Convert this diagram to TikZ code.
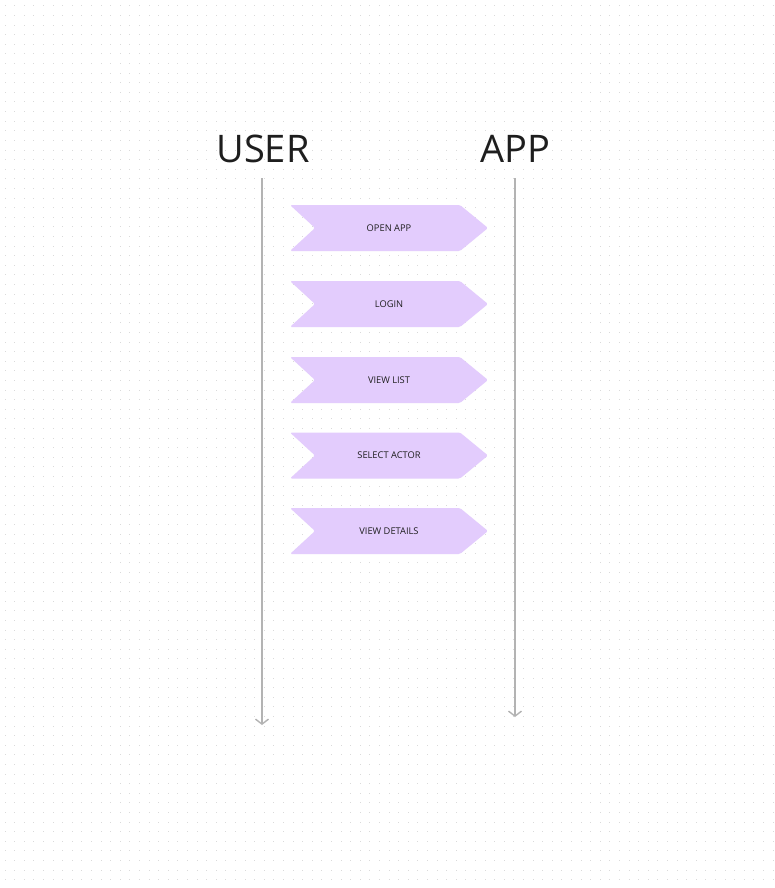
\documentclass[tikz,border=0pt]{standalone}
\usepackage{fontspec}
\setmainfont{Open Sans}
\usetikzlibrary{arrows.meta}
\definecolor{chev}{HTML}{E3CCFD}
\definecolor{lifeline}{HTML}{B3B3B3}
\definecolor{dotc}{HTML}{DADADA}
\definecolor{txt}{HTML}{1E1E1E}
\tikzset{
  chevbox/.style={fill=chev, rounded corners=1.5pt},
  steplabel/.style={font=\fontsize{9.3}{11}\selectfont, text=txt},
  header/.style={font=\fontsize{38}{40}\selectfont, text=txt, anchor=base},
  life/.style={draw=lifeline, line width=1.4pt, -{Straight Barb[length=5pt,width=13pt,line width=1.4pt]}}
}
\begin{document}
\begin{tikzpicture}[x=1pt,y=-1pt]
\useasboundingbox (0,0) rectangle (774,888);
\fill[white] (0,0) rectangle (774,888);
% dot grid
\foreach \i in {0,...,80}{
  \foreach \j in {0,...,92}{
    \fill[dotc] ({4.5+9.6*\i},{5.5+9.6*\j}) rectangle +(1,1);
  }
}
% headers
\node[header] (user) at (263,162) {USER};
\node[header] (app) at (515,162) {APP};
% lifelines
\coordinate (us) at (262,178);
\coordinate (ue) at (262,725);
\coordinate (as) at (515,178);
\coordinate (ae) at (515,717);
\draw[life] (us) -- (ue);
\draw[life] (as) -- (ae);
% chevrons
\foreach \n/\y/\t in {s1/228/OPEN APP, s2/304/LOGIN, s3/380/VIEW LIST, s4/455.5/SELECT ACTOR, s5/531/VIEW DETAILS}{
  \begin{scope}[shift={(389,\y)}]
    \fill[chevbox] (-99,-23) -- (71,-23) -- (99,0) -- (71,23) -- (-99,23) -- (-74,0) -- cycle;
  \end{scope}
  \node[steplabel] (\n) at (389,\y) {\t};
}
\end{tikzpicture}
\end{document}
